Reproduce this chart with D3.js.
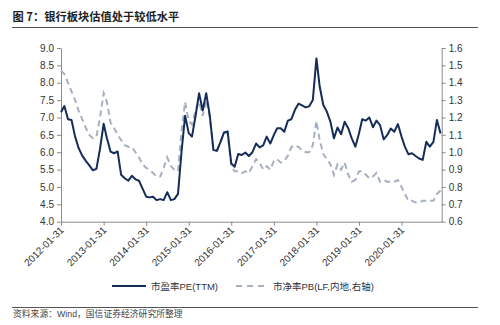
<!DOCTYPE html>
<html><head><meta charset="utf-8">
<script src="https://cdn.jsdelivr.net/npm/d3@7"></script>
<style>
html,body{margin:0;padding:0;background:#fff;}
svg{display:block;}
text{font-family:"Liberation Sans","Noto Sans CJK SC",Arial,sans-serif;}
</style></head>
<body><svg id="c" width="500" height="325"></svg>
<script>
const titleText = "图 7：银行板块估值处于较低水平";
const sourceText = "资料来源：Wind，国信证券经济研究所整理";
const seriesNames = ["市盈率PE(TTM)", "市净率PB(LF,内地,右轴)"];
const startMonth = "2012-01";
const peValues = [7.15,7.33,6.95,6.93,6.45,6.12,5.9,5.75,5.62,5.48,5.52,6.1,
6.82,6.4,6.02,5.97,6.02,5.35,5.25,5.18,5.32,5.22,5.18,4.95,
4.72,4.7,4.72,4.62,4.65,4.62,4.85,4.62,4.65,4.8,6.0,7.05,
6.55,6.45,7.05,7.7,7.2,7.7,7.05,6.06,6.04,6.3,6.57,6.6,
5.68,5.58,5.95,5.92,5.99,5.89,6.0,6.25,6.14,6.2,6.45,6.25,
6.5,6.69,6.69,6.59,6.91,6.95,7.22,7.4,7.35,7.29,7.32,7.5,
8.7,7.89,7.36,7.17,6.88,6.4,6.71,6.52,6.88,6.69,6.4,6.16,
6.54,6.95,6.91,7.0,6.72,6.91,6.78,6.37,6.49,6.68,6.59,6.81,
6.45,6.16,5.94,5.97,5.89,5.82,5.78,6.3,6.16,6.3,6.93,6.54];
const pbValues = [1.47,1.45,1.40,1.35,1.30,1.24,1.19,1.14,1.10,1.08,1.09,1.20,
1.34,1.29,1.17,1.14,1.10,1.07,1.04,1.03,1.03,1.00,0.97,0.93,
0.91,0.90,0.88,0.86,0.86,0.91,0.97,0.92,0.90,0.89,1.12,1.29,
1.18,1.16,1.24,1.29,1.21,1.30,1.20,1.02,1.01,1.06,1.11,1.11,
0.92,0.89,0.89,0.88,0.89,0.88,0.92,0.96,0.94,0.90,0.92,0.90,
0.95,0.96,0.94,0.95,0.98,1.03,1.04,1.03,1.01,1.00,1.00,1.04,
1.18,1.07,0.99,0.96,0.93,0.87,0.93,0.90,0.94,0.87,0.83,0.84,
0.89,0.89,0.87,0.85,0.86,0.88,0.83,0.84,0.83,0.83,0.83,0.84,
0.80,0.76,0.72,0.72,0.71,0.71,0.72,0.72,0.72,0.72,0.76,0.78];
const xTickLabels = ["2012-01-31","2013-01-31","2014-01-31","2015-01-31","2016-01-31","2017-01-31","2018-01-31","2019-01-31","2020-01-31"];
const leftTicks = [4.0,4.5,5.0,5.5,6.0,6.5,7.0,7.5,8.0,8.5,9.0];
const rightTicks = [0.6,0.7,0.8,0.9,1.0,1.1,1.2,1.3,1.4,1.5,1.6];

const parse = d3.timeParse("%Y-%m-%d");
const m0 = d3.timeParse("%Y-%m")(startMonth);
// month-end dates for each observation
const dates = peValues.map((_, i) => d3.timeDay.offset(d3.timeMonth.offset(m0, i + 1), -1));

const svg = d3.select("#c");
const L = 61, R = 441.7, T = 48, B = 221.7;
const x = d3.scaleTime().domain([parse("2012-01-31"), parse("2021-01-10")]).range([L, R]);
const yL = d3.scaleLinear().domain([4, 9]).range([B, T]);
const yR = d3.scaleLinear().domain([0.6, 1.6]).range([B, T]);

// title
svg.append("text").attr("x", 12.5).attr("y", 21).attr("font-size", 11.25).attr("font-weight", "bold")
  .attr("fill", "#222").style("font-family", "'Noto Sans CJK SC',sans-serif").text(titleText);
svg.append("line").attr("x1", 12).attr("x2", 478).attr("y1", 27.5).attr("y2", 27.5).attr("stroke", "#555").attr("stroke-width", 1);

const axisColor = "#8c8c8c";
const textColor = "#333";

// left axis
const gl = svg.append("g").attr("transform", `translate(${L},0)`)
  .call(d3.axisLeft(yL).tickValues(leftTicks).tickFormat(d3.format(".1f")).tickSize(4).tickSizeOuter(0).tickPadding(3));
// right axis
const gr = svg.append("g").attr("transform", `translate(${R},0)`)
  .call(d3.axisRight(yR).tickValues(rightTicks).tickFormat(d3.format(".1f")).tickSize(4).tickSizeOuter(0).tickPadding(3));
// bottom axis
const gb = svg.append("g").attr("transform", `translate(0,${B})`)
  .call(d3.axisBottom(x).tickValues(xTickLabels.map(parse)).tickFormat((d, i) => xTickLabels[i]).tickSize(4).tickSizeOuter(0));
gb.selectAll(".tick text").attr("text-anchor", "end").attr("dy", null).attr("y", null)
  .attr("transform", "translate(3,9) rotate(-45)");

[gl, gr, gb].forEach(g => {
  g.select(".domain").attr("stroke", axisColor);
  g.selectAll(".tick line").attr("stroke", axisColor);
  g.selectAll(".tick text").attr("fill", textColor).attr("font-size", 10)
    .style("font-family", "'Liberation Sans',Arial,sans-serif");
});

const data = dates.map((d, i) => ({d, pe: peValues[i], pb: pbValues[i]}));
const navy = "#142c57";
const dashCol = "#a7b0c1";

svg.append("path").datum(data).attr("fill", "none").attr("stroke", dashCol).attr("stroke-width", 2)
  .attr("stroke-dasharray", "6,4")
  .attr("d", d3.line().x(p => x(p.d)).y(p => yR(p.pb)));
svg.append("path").datum(data).attr("fill", "none").attr("stroke", navy).attr("stroke-width", 2)
  .attr("stroke-linejoin", "round")
  .attr("d", d3.line().x(p => x(p.d)).y(p => yL(p.pe)));

// legend
const ly = 286;
svg.append("line").attr("x1", 112).attr("x2", 146).attr("y1", ly).attr("y2", ly).attr("stroke", navy).attr("stroke-width", 2);
svg.append("text").attr("x", 151).attr("y", ly + 3.5).attr("font-size", 9.5).attr("fill", textColor).text(seriesNames[0]);
svg.append("line").attr("x1", 236).attr("x2", 266).attr("y1", ly).attr("y2", ly).attr("stroke", dashCol).attr("stroke-width", 2).attr("stroke-dasharray", "6,5");
svg.append("text").attr("x", 273).attr("y", ly + 3.5).attr("font-size", 9.5).attr("fill", textColor).text(seriesNames[1]);

// source
svg.append("line").attr("x1", 12).attr("x2", 478).attr("y1", 307.5).attr("y2", 307.5).attr("stroke", "#555").attr("stroke-width", 1);
svg.append("text").attr("x", 13).attr("y", 317).attr("font-size", 8.8).attr("fill", "#444").text(sourceText);
</script></body></html>
